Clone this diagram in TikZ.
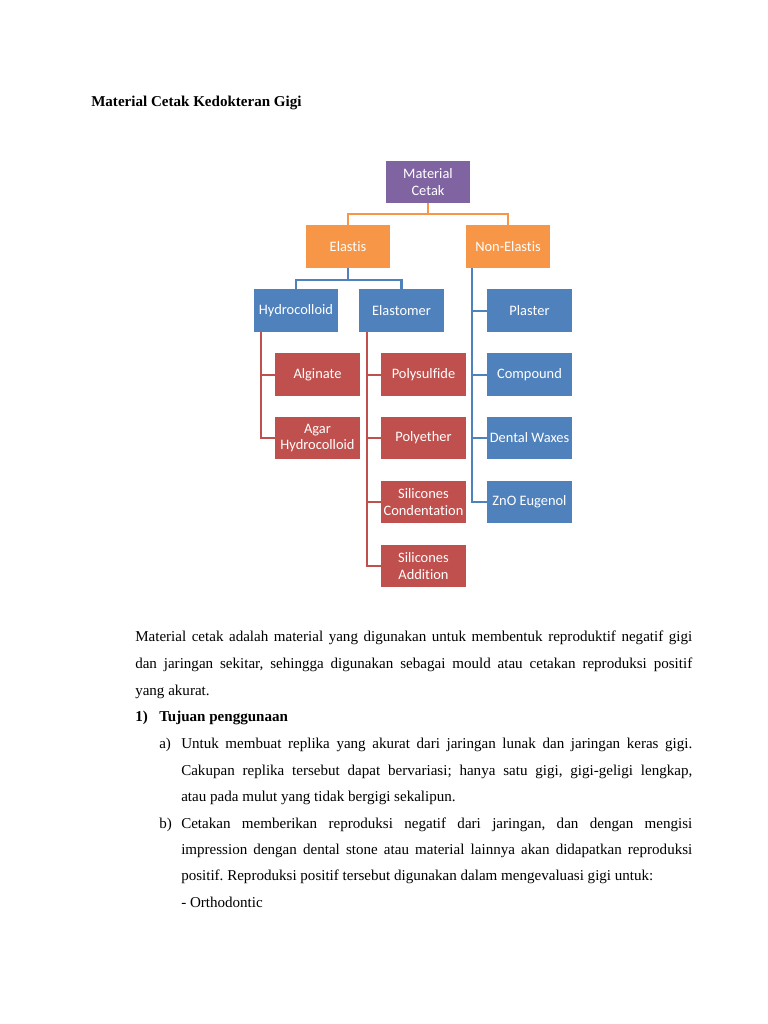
\documentclass[tikz,border=0pt]{standalone}
\usepackage{fontspec}
\setmainfont{Liberation Serif}
\newfontfamily\boxfont{Carlito}[Ligatures=NoCommon]
\usepackage{tikz}
\usetikzlibrary{calc,positioning}
\definecolor{rootfill}{RGB}{128,100,162}
\definecolor{orangefill}{RGB}{247,150,70}
\definecolor{bluefill}{RGB}{79,129,189}
\definecolor{redfill}{RGB}{192,80,77}
\frenchspacing
\newcommand{\txtline}[4]{%
  \node[bodytext] (#1) at (#2) {\makebox[#3][s]{#4}};%
}
\newcommand{\txtleft}[3]{%
  \node[bodytext] (#1) at (#2) {#3};%
}

\begin{document}
\begin{tikzpicture}[x=0.797pt,y=-0.797pt,
  bodytext/.style={anchor=base west,inner sep=0pt,font=\fontsize{12}{14}\selectfont},
  box/.style={minimum width=67.7pt,minimum height=33.5pt,inner sep=1pt,
    align=center,text=white,font=\boxfont\fontsize{11.5}{13.5}\selectfont},
  link/.style={line width=1.6pt}]
  \useasboundingbox[fill=white] (0,0) rectangle (768,1024);
  \txtleft{title}{91,106}{\textbf{Material Cetak Kedokteran Gigi}}
  % diagram
  \node[box,fill=rootfill] (root) at (428,182) {Material\\Cetak};
  \node[box,fill=orangefill] (elastis) at (348,246.5) {Elastis};
  \node[box,fill=orangefill] (nonel) at (508,246.5) {Non-Elastis};
  \node[box,fill=bluefill] (hydro) at (296,310.5) {Hydrocolloid};
  \node[box,fill=bluefill] (elasto) at (401.5,310.5) {Elastomer};
  \node[box,fill=bluefill] (plaster) at (529.5,310.5) {Plaster};
  \node[box,fill=bluefill] (compound) at (529.5,374.5) {Compound};
  \node[box,fill=bluefill] (waxes) at (529.5,438) {Dental Waxes};
  \node[box,fill=bluefill] (zno) at (529.5,502) {ZnO Eugenol};
  \node[box,fill=redfill] (alginate) at (317.5,374.5) {Alginate};
  \node[box,fill=redfill] (agar) at (317.5,438) {Agar\\Hydrocolloid};
  \node[box,fill=redfill] (polysul) at (423.5,374.5) {Polysulfide};
  \node[box,fill=redfill] (polyeth) at (423.5,438) {Polyether};
  \node[box,fill=redfill] (silcond) at (423.5,502) {Silicones\\Condentation};
  \node[box,fill=redfill] (siladd) at (423.5,566) {Silicones\\Addition};
  % connectors
  \draw[link,orangefill] (root.south) -- ++(0,11);
  \draw[link,orangefill] (elastis.north) |- ($(root.south)+(0,11)$) -| (nonel.north);
  \draw[link,bluefill] (elastis.south) -- ++(0,12);
  \draw[link,bluefill] (hydro.north) |- ($(elastis.south)+(0,12)$) -| (elasto.north);
  \coordinate (hbar) at ($(hydro.south west)+(8,0)$);
  \coordinate (ebar) at ($(elasto.south west)+(8,0)$);
  \coordinate (nbar) at ($(nonel.south west)+(7,0)$);
  \draw[link,redfill] (hbar) |- (agar.west);
  \draw[link,redfill] (alginate.west) -- (alginate.west -| hbar);
  \draw[link,redfill] (ebar) |- (siladd.west);
  \foreach \n in {polysul,polyeth,silcond}
    \draw[link,redfill] (\n.west) -- (\n.west -| ebar);
  \draw[link,bluefill] (nbar) |- (zno.west);
  \foreach \n in {plaster,compound,waxes}
    \draw[link,bluefill] (\n.west) -- (\n.west -| nbar);
  % text below
  \txtline{p1}{135,641}{443.9pt}{Material cetak adalah material yang digunakan untuk membentuk reproduktif negatif gigi}
  \txtline{p2}{135,668}{443.9pt}{dan jaringan sekitar, sehingga digunakan sebagai mould atau cetakan reproduksi positif}
  \txtleft{p3}{135,695}{yang akurat.}
  \txtleft{n1}{135,721}{\textbf{1)}}
  \txtleft{h1}{159,721}{\textbf{Tujuan penggunaan}}
  \txtleft{la}{159,748}{a)}
  \txtline{a1}{181,748}{407.3pt}{Untuk membuat replika yang akurat dari jaringan lunak dan jaringan keras gigi.}
  \txtline{a2}{181,775}{407.3pt}{Cakupan replika tersebut dapat bervariasi; hanya satu gigi, gigi-geligi lengkap,}
  \txtleft{a3}{181,801}{atau pada mulut yang tidak bergigi sekalipun.}
  \txtleft{lb}{159,828}{b)}
  \txtline{b1}{181,828}{407.3pt}{Cetakan memberikan reproduksi negatif dari jaringan, dan dengan mengisi}
  \txtline{b2}{181,854}{407.3pt}{impression dengan dental stone atau material lainnya akan didapatkan reproduksi}
  \txtleft{b3}{181,880}{positif. Reproduksi positif tersebut digunakan dalam mengevaluasi gigi untuk:}
  \txtleft{b4}{181,907}{- Orthodontic}
\end{tikzpicture}
\end{document}
